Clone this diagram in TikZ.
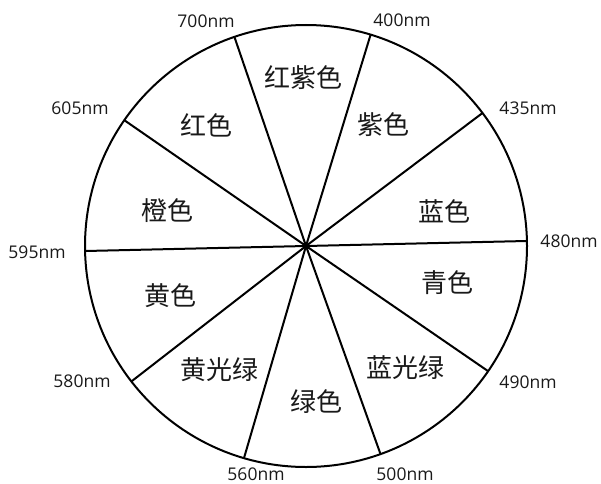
\documentclass[tikz,border=0pt]{standalone}
\usepackage{fontspec}
\setmainfont{Open Sans}
\newfontfamily\cjk{Noto Sans CJK SC}
\begin{document}
\begin{tikzpicture}[x=1pt,y=1pt,
  spoke/.style={line width=2pt,black},
  rim/.style={line width=2pt,black},
  nm/.style={font=\fontsize{17.5}{20}\selectfont,text=black!90,inner sep=0pt},
  cname/.style={font=\cjk\fontsize{26}{29}\selectfont,text=black!90,inner sep=0pt}]
\useasboundingbox (0,0) rectangle (601,483);
\coordinate (c) at (306,237);
\draw[rim] (c) circle (221);
\path (c) ++(108.9:221) coordinate (p700);
\path (c) ++(73.0:221) coordinate (p400);
\path (c) ++(37.0:221) coordinate (p435);
\path (c) ++(1.3:221) coordinate (p480);
\path (c) ++(-34.5:221) coordinate (p490);
\path (c) ++(-70.3:221) coordinate (p500);
\path (c) ++(-106.3:221) coordinate (p560);
\path (c) ++(-142.2:221) coordinate (p580);
\path (c) ++(181.3:221) coordinate (p595);
\path (c) ++(145.3:221) coordinate (p605);
\foreach \p in {p700,p400,p435,p480,p490,p500,p560,p580,p595,p605}
  \draw[spoke] (c) -- (\p);
\node[nm] (l700) at (206,462) {700nm};
\node[nm] (l400) at (402,463) {400nm};
\node[nm] (l435) at (528,375) {435nm};
\node[nm] (l480) at (569,242) {480nm};
\node[nm] (l490) at (528,101) {490nm};
\node[nm] (l500) at (405,9) {500nm};
\node[nm] (l560) at (256,9) {560nm};
\node[nm] (l580) at (82,102) {580nm};
\node[nm] (l595) at (37,231) {595nm};
\node[nm] (l605) at (80,375) {605nm};
\node[cname] (hzs) at (303,405) {红紫色};
\node[cname] (zs) at (383,358) {紫色};
\node[cname] (hs) at (206,358) {红色};
\node[cname] (cs) at (167,272) {橙色};
\node[cname] (ls) at (444,272) {蓝色};
\node[cname] (hus) at (170,187) {黄色};
\node[cname] (qs) at (447,200) {青色};
\node[cname] (hgl) at (219,113) {黄光绿};
\node[cname] (lgl) at (405,115) {蓝光绿};
\node[cname] (ls2) at (316,81) {绿色};
\end{tikzpicture}
\end{document}
